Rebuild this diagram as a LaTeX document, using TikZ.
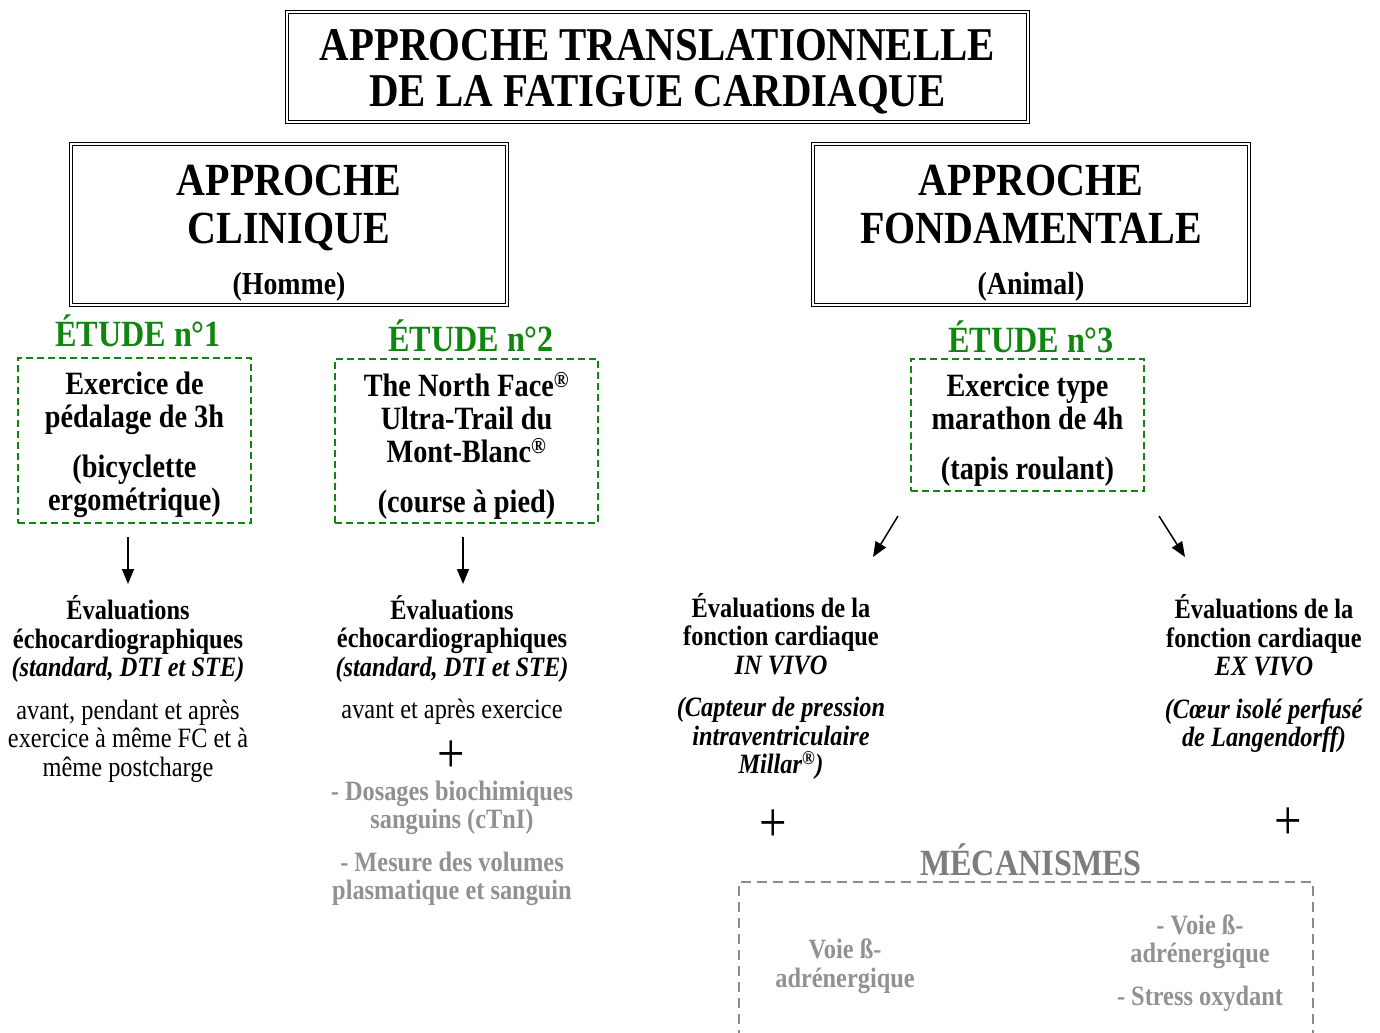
\documentclass[tikz,border=0pt]{standalone}
\usepackage{fontspec}
\setmainfont[FakeStretch=0.87]{Liberation Serif}
\usetikzlibrary{arrows.meta}
\definecolor{etgreen}{RGB}{16,134,16}
\definecolor{mgray}{RGB}{125,125,125}
\definecolor{tgray}{RGB}{145,145,145}
\definecolor{bgray}{RGB}{140,140,140}
\newcommand\myfs[2]{\fontsize{#1bp}{#2bp}\selectfont}
\newcommand\topstrut[1]{\rule{0pt}{#1bp}}
\begin{document}
\begin{tikzpicture}[x=1bp,y=-1bp,
  dbox/.style={draw, line width=1.1bp, double, double distance=2.2bp, inner sep=0pt, align=center},
  gbox/.style={draw=etgreen, dash pattern=on 7bp off 4bp, line width=1.8bp, inner sep=0pt, align=center, font=\bfseries\myfs{32.5}{33}},
  etude/.style={text=etgreen, font=\bfseries\myfs{37}{40}, inner sep=0pt},
  evtext/.style={align=center, inner sep=0pt, font=\myfs{28}{28.5}},
  graytext/.style={align=center, inner sep=0pt, text=tgray, font=\bfseries\myfs{28}{28.5}},
  plus/.style={inner sep=0pt, font=\myfs{56}{56}, text height=30bp, text depth=0pt},
  arr/.style={-{Triangle[length=15bp,width=12bp]}, line width=1.5bp}]
\useasboundingbox (0,0) rectangle (1380,1032);

% title
\node[dbox, minimum width=741bp, minimum height=110bp, font=\bfseries\myfs{47}{46}] (title) at (657.5,67) {\topstrut{41}APPROCHE TRANSLATIONNELLE\\DE LA FATIGUE CARDIAQUE};

% approaches
\node[dbox, minimum width=436bp, minimum height=161bp, font=\bfseries\myfs{46}{48}] (clin) at (289,224.5) {\topstrut{47}APPROCHE\\CLINIQUE\\[3bp]{\myfs{32}{36}(Homme)}};
\node[dbox, minimum width=436bp, minimum height=161bp, font=\bfseries\myfs{46}{48}] (fond) at (1031,224.5) {\topstrut{47}APPROCHE\\FONDAMENTALE\\[3bp]{\myfs{32}{36}(Animal)}};

% studies
\node[etude] (e1) at (138,331) {ÉTUDE n°1};
\node[etude] (e2) at (471,336) {ÉTUDE n°2};
\node[etude] (e3) at (1031,337) {ÉTUDE n°3};

\node[gbox, minimum width=233bp, minimum height=165bp] (b1) at (134.5,440.5) {\topstrut{30.5}Exercice de\\pédalage de 3h\\[17bp](bicyclette\\ergométrique)};
\node[gbox, minimum width=263bp, minimum height=164bp] (b2) at (466.5,441) {\topstrut{33}The North Face\textsuperscript{®}\\Ultra-Trail du\\Mont-Blanc\textsuperscript{®}\\[17bp](course à pied)};
\node[gbox, minimum width=233bp, minimum height=132bp] (b3) at (1027.5,425) {\topstrut{32}Exercice type\\marathon de 4h\\[17bp](tapis roulant)};

% evaluations
\node[evtext] (ev1) at (128,689) {\textbf{Évaluations}\\\textbf{échocardiographiques}\\\textbf{\textit{(standard, DTI et STE)}}\\[14bp]avant, pendant et après\\exercice à même FC et à\\même postcharge};
\node[evtext] (ev2) at (452,660) {\textbf{Évaluations}\\\textbf{échocardiographiques}\\\textbf{\textit{(standard, DTI et STE)}}\\[14bp]avant et après exercice};
\node[plus] (p2) at (451,757) {+};
\node[graytext] (bio) at (452,843.5) {- Dosages biochimiques\\sanguins (cTnI)\\[14bp]- Mesure des volumes\\plasmatique et sanguin};
\node[evtext, font=\bfseries\myfs{28}{28.5}] (ev3) at (781,686.5) {Évaluations de la\\fonction cardiaque\\\textit{IN VIVO}\\[14bp]\textit{(Capteur de pression}\\\textit{intraventriculaire}\\\textit{Millar\textsuperscript{®})}};
\node[evtext, font=\bfseries\myfs{28}{28.5}] (ev4) at (1264,673.5) {Évaluations de la\\fonction cardiaque\\\textit{EX VIVO}\\[14bp]\textit{(Cœur isolé perfusé}\\\textit{de Langendorff)}};
\node[plus] (p3) at (773,826) {+};
\node[plus] (p4) at (1288,824) {+};

% mechanisms
\node[inner sep=0pt, text=mgray, font=\bfseries\myfs{37}{40}] (mech) at (1031,860) {MÉCANISMES};
\draw[draw=bgray, line width=2bp, dash pattern=on 10bp off 6bp] (739,1040) -- (739,882) -- (1313,882) -- (1313,1040);
\node[graytext] (m1) at (845,966) {Voie ß-\\adrénergique};
\node[graytext] (m2) at (1200,963) {- Voie ß-\\adrénergique\\[14bp]- Stress oxydant};

% arrows
\coordinate (a1s) at (128,537); \coordinate (a1e) at (128,584);
\coordinate (a2s) at (463,537); \coordinate (a2e) at (463,584);
\coordinate (a3s) at (898,516); \coordinate (a3e) at (873,557);
\coordinate (a4s) at (1159,516); \coordinate (a4e) at (1185,557);
\draw[arr] (a1s) -- (a1e);
\draw[arr] (a2s) -- (a2e);
\draw[arr] (a3s) -- (a3e);
\draw[arr] (a4s) -- (a4e);
\end{tikzpicture}
\end{document}
